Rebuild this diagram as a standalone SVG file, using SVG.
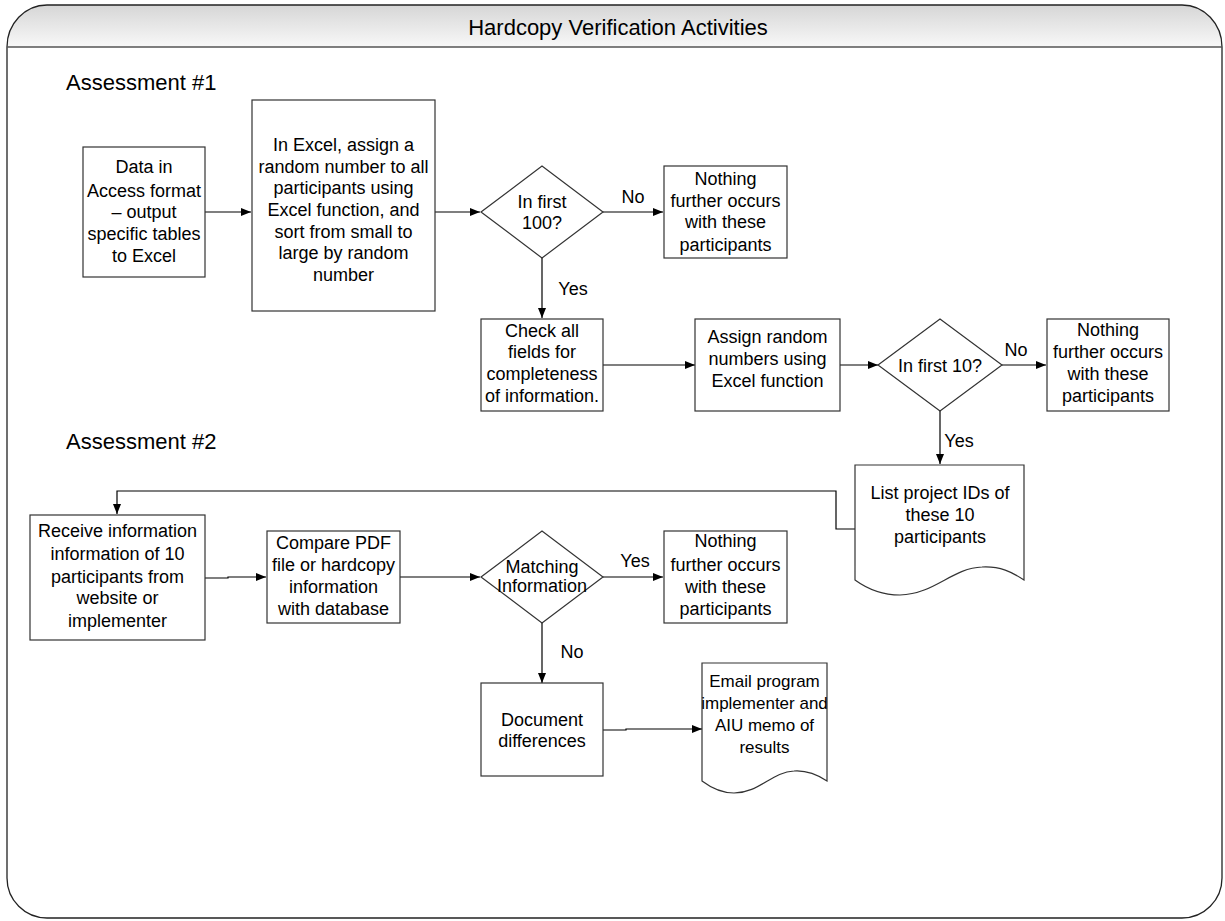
<svg xmlns="http://www.w3.org/2000/svg" width="1225" height="921" viewBox="0 0 1225 921">
<defs>
<linearGradient id="band" x1="0" y1="0" x2="0" y2="1">
<stop offset="0" stop-color="#d6d6d6"/>
<stop offset="1" stop-color="#f8f8f8"/>
</linearGradient>
<marker id="arr" markerUnits="userSpaceOnUse" markerWidth="11" markerHeight="9" refX="10" refY="4" orient="auto">
<path d="M0,0 L10,4 L0,8 Z" fill="#000"/>
</marker>
<style>
.box{fill:#fff;stroke:#333;stroke-width:1.2}
.t{font-family:"Liberation Sans",Arial,sans-serif;font-size:18px;fill:#000;text-anchor:middle}
.s{font-size:17px}
.lbl{font-family:"Liberation Sans",Arial,sans-serif;font-size:18px;fill:#000;text-anchor:middle}
.hdr{font-family:"Liberation Sans",Arial,sans-serif;font-size:22px;fill:#000}
.c{fill:none;stroke:#000;stroke-width:1.2}
.ca{fill:none;stroke:#000;stroke-width:1.2;marker-end:url(#arr)}
</style>
</defs>
<rect width="1225" height="921" fill="#fff"/>
<g id="frame">
<path d="M7,47 A40,42 0 0 1 47,5 H1182 A40,42 0 0 1 1222,47 Z" fill="url(#band)"/>
<path d="M7,47 A40,42 0 0 1 47,5 H1182 A40,42 0 0 1 1222,47 V878 A40,40 0 0 1 1182,918 H47 A40,40 0 0 1 7,878 Z" fill="none" stroke="#222" stroke-width="1.3"/>
<line x1="7" y1="47" x2="1222" y2="47" stroke="#555" stroke-width="1.5"/>
<text x="618" y="35" class="hdr" text-anchor="middle" font-size="21">Hardcopy Verification Activities</text>
<text x="66" y="90" class="hdr">Assessment #1</text>
<text x="66" y="449" class="hdr">Assessment #2</text>
</g>
<g id="connectors">
<path class="ca" d="M205,212 H251"/>
<path class="ca" d="M435,212 H480"/>
<path class="ca" d="M603,212 H663"/>
<path class="ca" d="M542,258 V318"/>
<path class="ca" d="M603,365 H695"/>
<path class="ca" d="M840,365 H878"/>
<path class="ca" d="M1002,365 H1046"/>
<path class="ca" d="M940,411 V464"/>
<path class="ca" d="M855,529 H836 V491 H117 V514"/>
<path class="ca" d="M205,578 H228 V577 H266"/>
<path class="ca" d="M400,577 H480"/>
<path class="ca" d="M603,577 H663"/>
<path class="ca" d="M542,623 V683"/>
<path class="ca" d="M603,730 H626 V729 H702"/>
<text class="lbl" x="633" y="203">No</text>
<text class="lbl" x="573" y="295">Yes</text>
<text class="lbl" x="1016" y="356">No</text>
<text class="lbl" x="959" y="447">Yes</text>
<text class="lbl" x="635" y="567">Yes</text>
<text class="lbl" x="572" y="658">No</text>
</g>
<g id="n1">
<rect class="box" x="83" y="147" width="122" height="130"/>
<text class="t"><tspan x="144" y="173">Data in</tspan><tspan x="144" y="197">Access format</tspan><tspan x="144" y="218">– output</tspan><tspan x="144" y="240">specific tables</tspan><tspan x="144" y="262">to Excel</tspan></text>
</g>
<g id="n2">
<rect class="box" x="252" y="100" width="183" height="211"/>
<text class="t"><tspan x="343.5" y="151">In Excel, assign a</tspan><tspan x="343.5" y="173">random number to all</tspan><tspan x="343.5" y="194">participants using</tspan><tspan x="343.5" y="216">Excel function, and</tspan><tspan x="343.5" y="238">sort from small to</tspan><tspan x="343.5" y="259">large by random</tspan><tspan x="343.5" y="281">number</tspan></text>
</g>
<g id="d1">
<polygon class="box" points="481,212 542,166 603,212 542,258"/>
<text class="t"><tspan x="542" y="208">In first</tspan><tspan x="542" y="229">100?</tspan></text>
</g>
<g id="n3">
<rect class="box" x="664" y="166" width="123" height="92"/>
<text class="t"><tspan x="725.5" y="185">Nothing</tspan><tspan x="725.5" y="207">further occurs</tspan><tspan x="725.5" y="228">with these</tspan><tspan x="725.5" y="251">participants</tspan></text>
</g>
<g id="n4">
<rect class="box" x="481" y="319" width="122" height="92"/>
<text class="t"><tspan x="542" y="337">Check all</tspan><tspan x="542" y="358">fields for</tspan><tspan x="542" y="380">completeness</tspan><tspan x="542" y="402">of information.</tspan></text>
</g>
<g id="n5">
<rect class="box" x="695" y="319" width="145" height="92"/>
<text class="t"><tspan x="767.5" y="343">Assign random</tspan><tspan x="767.5" y="365">numbers using</tspan><tspan x="767.5" y="387">Excel function</tspan></text>
</g>
<g id="d2">
<polygon class="box" points="878,365 940,319 1002,365 940,411"/>
<text class="t" x="940" y="372">In first 10?</text>
</g>
<g id="n6">
<rect class="box" x="1047" y="319" width="122" height="92"/>
<text class="t"><tspan x="1108" y="336">Nothing</tspan><tspan x="1108" y="358">further occurs</tspan><tspan x="1108" y="380">with these</tspan><tspan x="1108" y="402">participants</tspan></text>
</g>
<g id="doc1">
<path class="box" d="M855,465 H1024 V580 C1012,572 1000,566 982,567 C952,568 935,594 900,595 C880,595 866,588 855,580 Z"/>
<text class="t"><tspan x="940" y="499">List project IDs of</tspan><tspan x="940" y="521">these 10</tspan><tspan x="940" y="543">participants</tspan></text>
</g>
<g id="n7">
<rect class="box" x="30" y="515" width="175" height="125"/>
<text class="t"><tspan x="117.5" y="537">Receive information</tspan><tspan x="117.5" y="560">information of 10</tspan><tspan x="117.5" y="583">participants from</tspan><tspan x="117.5" y="604">website or</tspan><tspan x="117.5" y="627">implementer</tspan></text>
</g>
<g id="n8">
<rect class="box" x="267" y="531" width="133" height="92"/>
<text class="t"><tspan x="333.5" y="549">Compare PDF</tspan><tspan x="333.5" y="571">file or hardcopy</tspan><tspan x="333.5" y="593">information</tspan><tspan x="333.5" y="615">with database</tspan></text>
</g>
<g id="d3">
<polygon class="box" points="481,577 542,531 603,577 542,623"/>
<text class="t"><tspan x="542" y="573">Matching</tspan><tspan x="542" y="592">Information</tspan></text>
</g>
<g id="n9">
<rect class="box" x="664" y="531" width="123" height="92"/>
<text class="t"><tspan x="725.5" y="547">Nothing</tspan><tspan x="725.5" y="571">further occurs</tspan><tspan x="725.5" y="593">with these</tspan><tspan x="725.5" y="615">participants</tspan></text>
</g>
<g id="n10">
<rect class="box" x="481" y="683" width="122" height="93"/>
<text class="t"><tspan x="542" y="726">Document</tspan><tspan x="542" y="747">differences</tspan></text>
</g>
<g id="doc2">
<path class="box" d="M702,663 H827 V781 C818,775 808,770 794,771 C772,772 759,793 734,793 C720,793 710,787 702,781 Z"/>
<text class="t s"><tspan x="764.5" y="687">Email program</tspan><tspan x="764.5" y="709">implementer and</tspan><tspan x="764.5" y="731">AIU memo of</tspan><tspan x="764.5" y="753">results</tspan></text>
</g>
</svg>
